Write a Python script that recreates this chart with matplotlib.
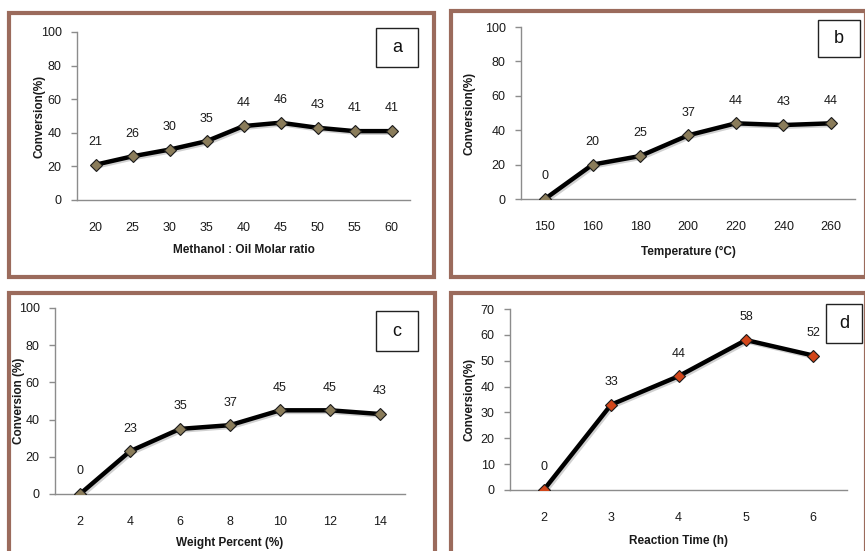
import matplotlib
matplotlib.use("Agg")
import matplotlib.pyplot as plt
from matplotlib.patches import Rectangle
import matplotlib.patheffects as pe

W, H = 865, 551

# ---- data ----
a_cats = ["20", "25", "30", "35", "40", "45", "50", "55", "60"]
a_vals = [21, 26, 30, 35, 44, 46, 43, 41, 41]
b_cats = ["150", "160", "180", "200", "220", "240", "260"]
b_vals = [0, 20, 25, 37, 44, 43, 44]
c_cats = ["2", "4", "6", "8", "10", "12", "14"]
c_vals = [0, 23, 35, 37, 45, 45, 43]
d_cats = ["2", "3", "4", "5", "6"]
d_vals = [0, 33, 44, 58, 52]

fig = plt.figure(figsize=(W / 100, H / 100), dpi=100)
fig.patch.set_facecolor("white")
plt.rcParams['font.family'] = ['Liberation Sans', 'DejaVu Sans']

BORDER = "#9b6b5c"
TXT = "#1a1a1a"
AX = "#8c8c8c"


def fx(x):
    return x / W


def fy(y):
    return 1 - y / H


def frame(x0, y0, x1, y1):
    fig.patches.append(Rectangle((fx(x0), fy(y1)), fx(x1 - x0), (y1 - y0) / H,
                                 transform=fig.transFigure, fill=False,
                                 edgecolor=BORDER, linewidth=3, zorder=0))


def letter_box(x0, y0, x1, y1, txt):
    fig.patches.append(Rectangle((fx(x0), fy(y1)), fx(x1 - x0), (y1 - y0) / H,
                                 transform=fig.transFigure, facecolor="white",
                                 edgecolor="#222222", linewidth=1.0, zorder=5))
    fig.text(fx((x0 + x1) / 2), fy((y0 + y1) / 2), txt, ha="center", va="center",
             fontsize=13, color="#111111", zorder=6)


def panel(l, r, t, b, cats, vals, ymax, ystep, xlabel, ylabel, xlab_y, ylab_x,
          mcolor):
    ax = fig.add_axes([fx(l), fy(b), fx(r - l), (b - t) / H])
    ax.set_facecolor("none")
    n = len(cats)
    xs = list(range(n))
    ax.plot(xs, vals, color="black", lw=3.2, zorder=3,
            path_effects=[pe.SimpleLineShadow(offset=(1.2, -1.2), alpha=0.18),
                          pe.Normal()])
    ax.plot(xs, vals, linestyle="none", marker="D", markersize=6.5,
            markerfacecolor=mcolor, markeredgecolor="#1a1a1a",
            markeredgewidth=0.8, zorder=4)
    for x, v in zip(xs, vals):
        ax.annotate(str(v), (x, v), xytext=(0, 12), textcoords="offset points",
                    ha="center", va="bottom", fontsize=9, color=TXT)
    ax.set_xlim(-0.5, n - 0.5)
    ax.set_ylim(0, ymax)
    ax.set_yticks(list(range(0, ymax + 1, ystep)))
    ax.set_xticks(xs)
    ax.set_xticklabels(cats)
    for s in ["top", "right"]:
        ax.spines[s].set_visible(False)
    for s in ["left", "bottom"]:
        ax.spines[s].set_color(AX)
        ax.spines[s].set_linewidth(1.0)
    ax.tick_params(axis="y", colors=AX, labelcolor=TXT, labelsize=9, length=4,
                   width=1, pad=7)
    ax.tick_params(axis="x", length=0, labelcolor=TXT, labelsize=9, pad=16)
    fig.text(fx((l + r) / 2), fy(xlab_y), xlabel, ha="center", va="center",
             fontsize=8.5, fontweight="bold", color=TXT)
    fig.text(fx(ylab_x), fy((t + b) / 2), ylabel, ha="center", va="center",
             rotation=90, fontsize=8.5, fontweight="bold", color=TXT)
    return ax


# frames
frame(9, 13, 434, 277)
frame(451, 11, 866, 277)
frame(9, 293, 435, 553)
frame(451, 293, 866, 553)

KHAKI = "#8a7c5a"
panel(77, 410, 32, 200, a_cats, a_vals, 100, 20, "Methanol : Oil Molar ratio",
      "Conversion(%)", 250, 40, KHAKI)
panel(521, 855, 27, 199, b_cats, b_vals, 100, 20, "Temperature (°C)",
      "Conversion(%)", 252, 470, KHAKI)
panel(55, 405, 308, 494, c_cats, c_vals, 100, 20, "Weight Percent (%)",
      "Conversion (%)", 543, 19, KHAKI)
panel(510, 847, 309, 490, d_cats, d_vals, 70, 10, "Reaction Time (h)",
      "Conversion(%)", 541, 469, "#d2461a")

letter_box(376, 28, 418, 67, "a")
letter_box(818, 20, 860, 57, "b")
letter_box(376, 311, 418, 351, "c")
letter_box(826, 304, 862, 343, "d")

fig.savefig("out.png", dpi=100, facecolor="white")
